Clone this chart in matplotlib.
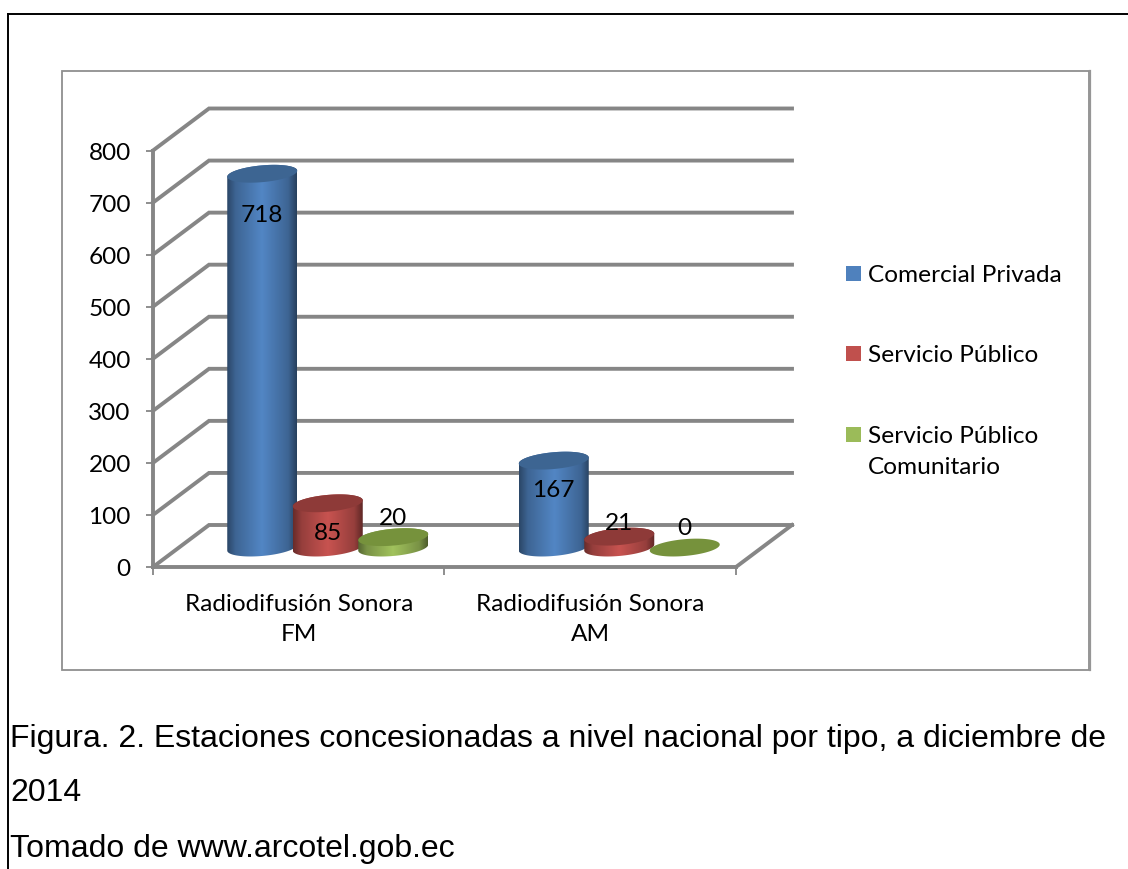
import numpy as np
import matplotlib
matplotlib.use("Agg")
import matplotlib.pyplot as plt
from matplotlib.patches import Polygon, Rectangle
from matplotlib.lines import Line2D

# data
categories = ["Radiodifusión Sonora\nFM", "Radiodifusión Sonora\nAM"]
series_names = ["Comercial Privada", "Servicio Público", "Servicio Público\nComunitario"]
comercial = [718, 167]
publico = [85, 21]
comunitario = [20, 0]
y_ticks = [0, 100, 200, 300, 400, 500, 600, 700, 800]
caption = ["Figura. 2. Estaciones concesionadas a nivel nacional por tipo, a diciembre de",
           "2014",
           "Tomado de www.arcotel.gob.ec"]

W, H = 1128, 870
plt.rcParams['font.family'] = ['Lato', 'DejaVu Sans']
FS = 17.6

fig = plt.figure(figsize=(W/100, H/100), dpi=100)
ax = fig.add_axes([153/W, 1-568/H, (736-153)/W, (568-151.5)/H])
ax.set_xlim(0, 2)
ax.set_ylim(0, 800)

# pixel sizes converted to data units
px_x = 2/(736-153)
px_y = 800/(568-151.5)
GRAY = "#868686"
LW = 2.8


def fx(x):
    return x/W


def fy(y):
    return 1-y/H


# outer page frame and chart frame
fig.add_artist(Line2D([fx(8), fx(8)], [fy(15), 0], color="black", lw=1.4))
fig.add_artist(Line2D([fx(8), 1], [fy(15), fy(15)], color="black", lw=1.4))
fig.add_artist(Rectangle((fx(62), fy(670.5)), (1089-62)/W, (670.5-72)/H, fill=False,
                         edgecolor="#8f8f8f", lw=1.3))
fig.add_artist(Line2D([fx(1089.5), fx(1089.5)], [fy(72), fy(671)], color="#969696", lw=1.6))

# back wall
depth_x = 56*px_x
depth_y = 42*px_y
for v in y_ticks:
    ax.plot([0, depth_x, 2+depth_x], [v, v+depth_y, v+depth_y], color=GRAY, lw=LW,
            clip_on=False, zorder=1, solid_joinstyle="miter")
ax.plot([2, 2+depth_x], [0, depth_y], color=GRAY, lw=LW, clip_on=False, zorder=1)

# axes
for side in ["top", "right"]:
    ax.spines[side].set_visible(False)
for side in ["left", "bottom"]:
    ax.spines[side].set_color(GRAY)
    ax.spines[side].set_linewidth(LW)
    ax.spines[side].set_zorder(2)
ax.set_yticks(y_ticks)
ax.set_xticks([0, 1, 2])
ax.set_xticklabels([])
ax.set_xticks([0.5, 1.5], labels=categories, minor=True)
ax.tick_params(axis="y", length=5, width=1.3, color=GRAY, labelsize=FS, pad=11, labelcolor="black")
ax.tick_params(axis="x", which="major", length=6, width=1.3, color=GRAY)
ax.tick_params(axis="x", which="minor", length=0, labelsize=FS, pad=18.5)
for lab in ax.get_xticklabels(minor=True):
    lab.set_linespacing(1.56)
ax.patch.set_visible(False)

# cylinders
colors = ["#4F81BD", "#C0504D", "#9BBB59"]
top_colors = ["#3D6592", "#8E3A38", "#76923C"]
spacing = 65.5*px_x
a = 35*px_x
b = 8.4*px_y
tilt = 3*px_y
base_x = depth_x/2+1*px_x
base_y = depth_y/2-3
label_offsets = [[-41, -29, 20], [-29, 14, 20]]
shade = np.interp(np.linspace(0, 1, 80), [0, 0.12, 0.5, 0.88, 1], [0.55, 0.78, 1.04, 0.78, 0.5])
t_low = np.linspace(np.pi, 2*np.pi, 60)
t_up = np.linspace(0, np.pi, 60)
t_all = np.linspace(0, 2*np.pi, 120)

for c in range(2):
    for s, values in enumerate([comercial, publico, comunitario]):
        val = values[c]
        cx = c+0.5+base_x+(s-1)*spacing
        top = base_y+val
        if val > 0:
            xs = np.r_[cx+a*np.cos(t_low), cx+a*np.cos(t_up)]
            ys = np.r_[base_y+b*np.sin(t_low)+tilt*np.cos(t_low), top+b*np.sin(t_up)+tilt*np.cos(t_up)]
            body = Polygon(np.c_[xs, ys], closed=True, facecolor="none", edgecolor="none",
                           transform=ax.transData, clip_on=False)
            ax.add_patch(body)
            rgb = np.array(matplotlib.colors.to_rgb(colors[s]))
            img = np.clip(shade[:, None]*rgb, 0, 1)[None, :, :]
            im = ax.imshow(img, extent=[cx-a, cx+a, base_y-b-tilt, top+b+tilt], aspect="auto",
                           zorder=3+c*3+s, interpolation="bilinear")
            im.set_clip_path(body)
            im.set_clip_box(fig.bbox)
        cap = Polygon(np.c_[cx+a*np.cos(t_all), top+b*np.sin(t_all)+tilt*np.cos(t_all)], closed=True,
                      facecolor=top_colors[s], edgecolor="none", zorder=3.5+c*3+s, clip_on=False)
        ax.add_patch(cap)
        ax.annotate(str(val), (cx, top), xytext=(0, label_offsets[c][s]*0.72), textcoords="offset points",
                    ha="center", va="center", fontsize=FS, color="black", zorder=20,
                    annotation_clip=False)
ax.set_xlim(0, 2)
ax.set_ylim(0, 800)

# legend, first line of each entry lines up with its square
for name, col, y in zip(series_names, colors, [274, 354, 435]):
    fig.add_artist(Rectangle((fx(846), fy(y+7.5)), 15/W, 15/H, facecolor=col, edgecolor="none"))
    fig.text(fx(868), fy(y-9), name, fontsize=FS, va="top", ha="left", color="black", linespacing=1.56)

# caption
for line, y in zip(caption, [739, 793, 849]):
    fig.text(fx(10), fy(y), line, family="Liberation Sans", fontsize=23.0, va="center", ha="left", color="black")

fig.savefig("out.png", dpi=100)
